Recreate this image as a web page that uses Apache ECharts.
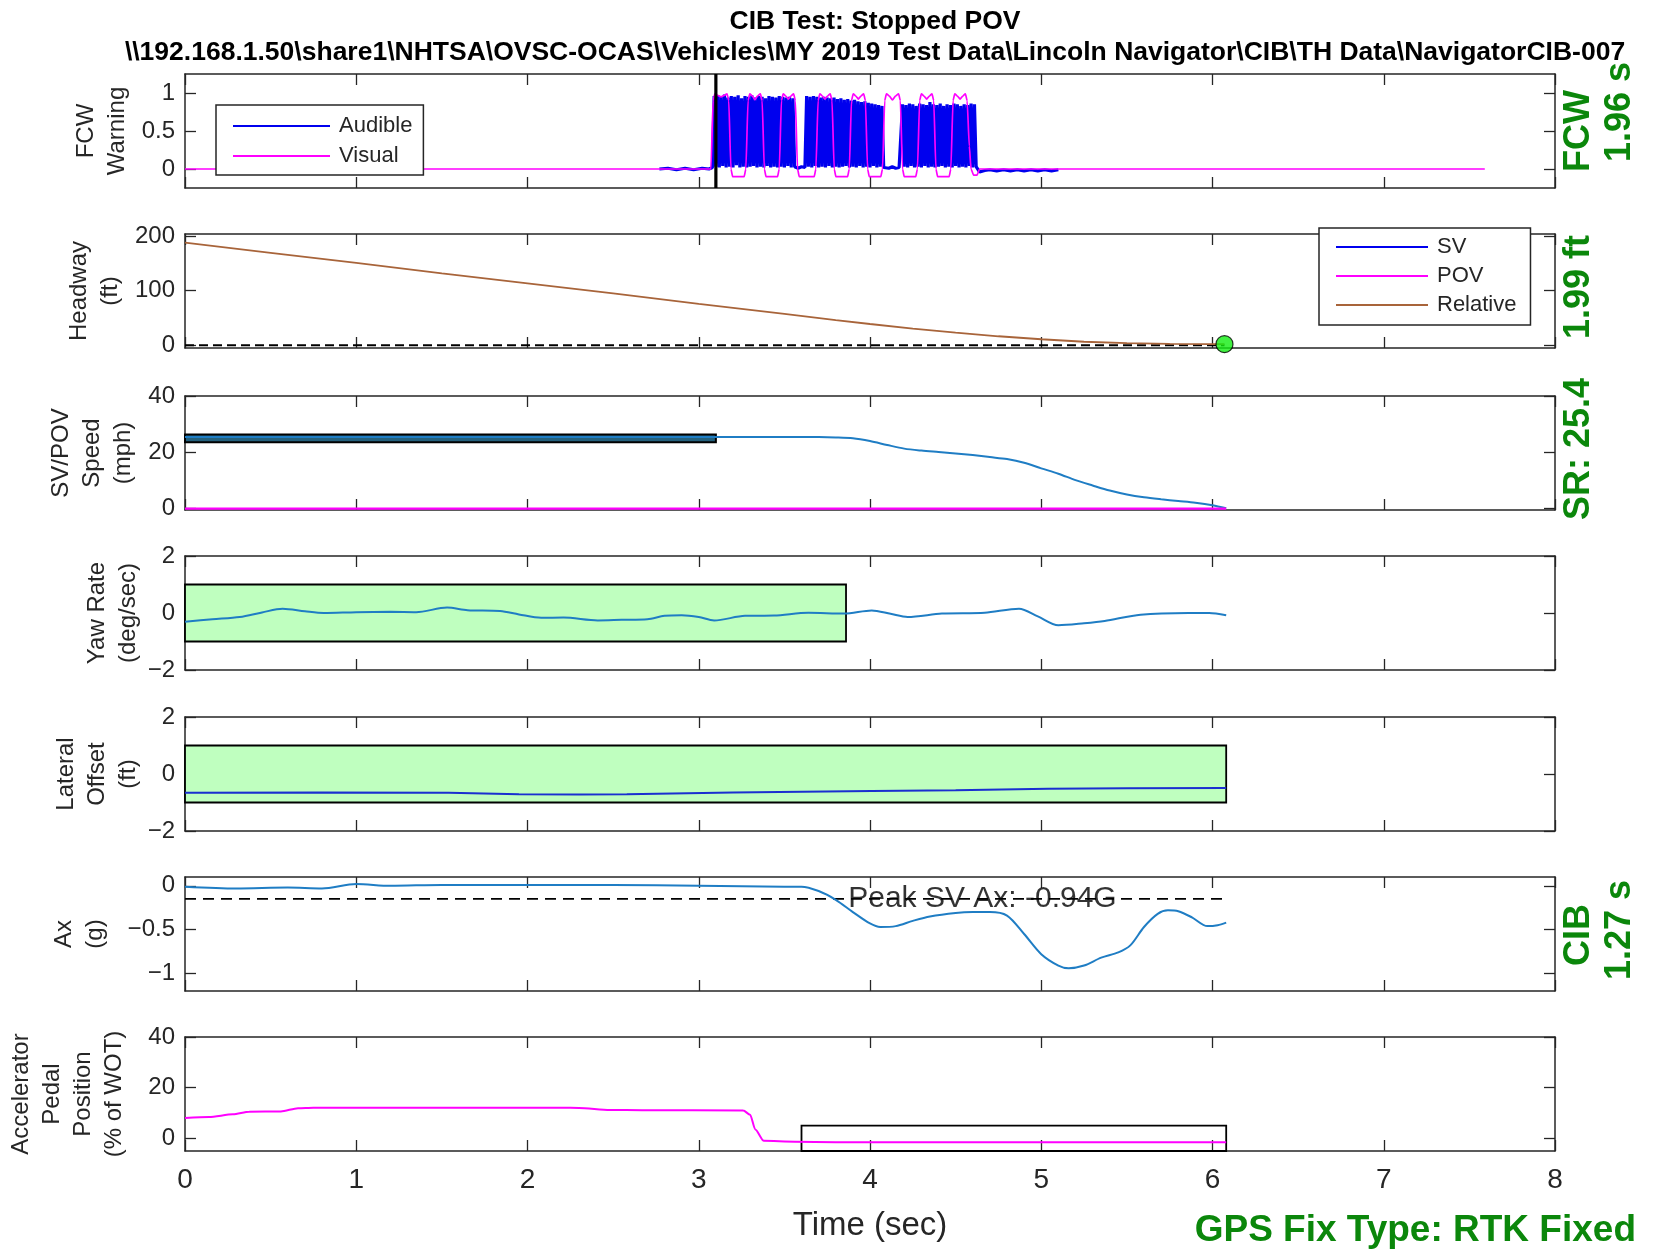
<!DOCTYPE html>
<html>
<head>
<meta charset="utf-8">
<script src="https://cdn.jsdelivr.net/npm/echarts@6/dist/echarts.min.js"></script>
<style>
html,body{margin:0;padding:0;background:#fff;}
#chart{width:1654px;height:1253px;}
</style>
</head>
<body>
<div id="chart"></div>
<script>
// ---------------- DATA ----------------
const titleMain = 'CIB Test: Stopped POV';
const titlePath = '\\\\192.168.1.50\\share1\\NHTSA\\OVSC-OCAS\\Vehicles\\MY 2019 Test Data\\Lincoln Navigator\\CIB\\TH Data\\NavigatorCIB-007';

const xTicks = [0, 8, 1]; // min, max, step (seconds)

// FCW warning - Audible (blue), sampled blocks at 0.01 s
const audiblePre = [[2.77,0.0],[2.82,0.01],[2.87,-0.01],[2.92,0.01],[2.97,-0.01],[3.02,0.01],[3.06,0.0],[3.08,0.02]];
const audBlock1Start = 3.09;
const audBlock1 = [
 0.96,0.03,0.97,0.02,0.95,0.04,0.98,0.02,0.94,0.03,
 0.96,0.02,0.95,0.05,0.97,0.02,0.93,0.03,0.96,0.02,
 0.95,0.03,0.97,0.04,0.94,0.02,0.96,0.03,0.95,0.02,
 0.93,0.04,0.96,0.02,0.95,0.03,0.94,0.02,0.96,0.03,
 0.95,0.02,0.94,0.04,0.95,0.02,0.93];
const audGap1 = [[3.56,0.03],[3.58,0.01],[3.60,0.03],[3.62,0.02]];
const audBlock2Start = 3.63;
const audBlock2 = [
 0.96,0.03,0.95,0.02,0.96,0.04,0.95,0.02,0.94,0.03,
 0.95,0.02,0.94,0.04,0.93,0.02,0.94,0.03,0.92,0.02,
 0.93,0.03,0.91,0.04,0.92,0.02,0.90,0.03,0.91,0.02,
 0.89,0.04,0.88,0.02,0.89,0.03,0.87,0.02,0.86,0.04,
 0.85,0.02,0.84,0.03,0.83,0.02];
const audGap2 = [[4.09,0.03],[4.11,0.01],[4.13,0.03],[4.15,0.01],[4.17,0.02],[4.18,0.03]];
const audBlock3Start = 4.19;
const audBlock3 = [
 0.85,0.03,0.84,0.02,0.86,0.04,0.85,0.02,0.83,0.03,
 0.86,0.02,0.85,0.04,0.84,0.02,0.88,0.03,0.85,0.02,
 0.84,0.03,0.86,0.04,0.83,0.02,0.85,0.03,0.84,0.02,
 0.86,0.04,0.85,0.02,0.83,0.03,0.85,0.02,0.84,0.04,
 0.86,0.02,0.85,0.03];
const audTail = [[4.63,0.02],[4.64,-0.04],[4.67,-0.02],[4.70,-0.01],[4.74,-0.025],[4.78,-0.01],[4.82,-0.025],[4.86,-0.01],[4.90,-0.025],[4.94,-0.01],[4.98,-0.025],[5.02,-0.01],[5.06,-0.025],[5.10,-0.01]];
const audSampleDt = 0.01;

// FCW warning - Visual (magenta)
const visualPts = [
 [0,0],[3.071,0],[3.084,0.9],[3.094,0.99],[3.11,0.97],[3.13,0.95],[3.15,0.97],[3.165,0.99],[3.175,0.9],[3.188,0],[3.198,-0.1],[3.265,-0.1],
 [3.275,0],[3.288,0.9],[3.298,0.99],[3.313,0.96],[3.328,0.91],[3.343,0.96],[3.36,0.99],[3.37,0.9],[3.383,0],[3.393,-0.1],[3.46,-0.1],
 [3.47,0],[3.483,0.9],[3.493,0.99],[3.508,0.96],[3.523,0.92],[3.538,0.96],[3.554,0.99],[3.564,0.9],[3.577,0],[3.587,-0.1],[3.674,-0.1],
 [3.684,0],[3.697,0.9],[3.707,0.99],[3.722,0.96],[3.737,0.92],[3.752,0.96],[3.768,0.99],[3.778,0.9],[3.791,0],[3.801,-0.1],[3.869,-0.1],
 [3.879,0],[3.892,0.9],[3.902,0.99],[3.917,0.96],[3.932,0.92],[3.947,0.96],[3.963,0.99],[3.973,0.9],[3.986,0],[3.996,-0.1],[4.063,-0.1],
 [4.073,0],[4.086,0.9],[4.096,0.99],[4.113,0.96],[4.131,0.91],[4.149,0.96],[4.167,0.99],[4.177,0.9],[4.19,0],[4.2,-0.1],[4.267,-0.1],
 [4.277,0],[4.29,0.9],[4.3,0.99],[4.315,0.96],[4.331,0.92],[4.347,0.96],[4.362,0.99],[4.372,0.9],[4.385,0],[4.395,-0.1],[4.462,-0.1],
 [4.472,0],[4.485,0.9],[4.495,0.99],[4.51,0.96],[4.526,0.92],[4.542,0.96],[4.557,0.99],[4.567,0.9],[4.58,0.3],[4.59,0],[4.605,-0.08],[4.625,-0.08],[4.64,0],
 [7.59,0]];
const fcwMarkT = 3.10;
const fcwRange = [-0.25, 1.25];

// Headway
const headT = [0, 0.5, 1, 1.5, 2, 2.5, 3, 3.5, 3.8, 4.0, 4.25, 4.5, 4.75, 5.0, 5.25, 5.5, 5.75, 6.0, 6.07];
const headRel = [188, 169.5, 151, 132, 113.5, 95, 76, 57.5, 46, 39, 30.5, 23, 16.5, 11, 6.5, 3.8, 2.5, 2.0, 1.99];
const headZeroT = [0, 6.07];
const headZeroV = [0, 0];
const headEnd = [6.07, 1.99];

// Speed
const speedT = [0, 0.5, 1, 1.5, 2, 2.5, 3, 3.5, 3.7, 3.8, 3.9, 4.0, 4.1, 4.2, 4.3, 4.4, 4.5, 4.6, 4.7, 4.8, 4.9, 5.0, 5.1, 5.2, 5.3, 5.4, 5.5, 5.6, 5.7, 5.8, 5.9, 6.0, 6.08];
const speedSV = [25.4, 25.4, 25.4, 25.4, 25.4, 25.4, 25.4, 25.4, 25.4, 25.3, 25.0, 24.0, 22.6, 21.3, 20.6, 20.1, 19.6, 19.0, 18.3, 17.6, 16.3, 14.3, 12.4, 10.1, 8.2, 6.4, 5.0, 4.0, 3.3, 2.7, 2.1, 1.2, 0.1];
const speedPOVT = [0, 6.08];
const speedPOV = [0, 0];
const speedBoxX = [0, 3.10];
const speedBoxY = [23.6, 26.3];

// Yaw rate
const yawT = [0, 0.16, 0.32, 0.45, 0.57, 0.7, 0.81, 1.0, 1.2, 1.35, 1.53, 1.65, 1.84, 1.95, 2.08, 2.21, 2.41, 2.55, 2.70, 2.80, 2.90, 3.0, 3.09, 3.27, 3.44, 3.64, 3.85, 4.01, 4.12, 4.22, 4.42, 4.67, 4.87, 4.98, 5.10, 5.25, 5.37, 5.58, 5.86, 5.98, 6.08];
const yawV = [-0.31, -0.22, -0.14, 0.02, 0.15, 0.06, 0.0, 0.03, 0.04, 0.03, 0.19, 0.1, 0.07, -0.05, -0.17, -0.16, -0.26, -0.24, -0.22, -0.1, -0.08, -0.14, -0.26, -0.10, -0.09, 0.01, -0.02, 0.09, -0.03, -0.14, -0.02, 0.01, 0.15, -0.12, -0.43, -0.36, -0.28, -0.06, 0.0, 0.0, -0.08];
const yawBoxX = [0, 3.86];
const yawBoxY = [-1, 1];

// Lateral offset
const latT = [0, 0.8, 1.54, 1.95, 2.3, 2.58, 3.2, 4.01, 4.5, 5.04, 5.5, 6.08];
const latV = [-0.66, -0.65, -0.66, -0.71, -0.72, -0.71, -0.65, -0.60, -0.57, -0.52, -0.50, -0.49];
const latBoxX = [0, 6.08];
const latBoxY = [-1, 1];

// Longitudinal acceleration
const axT = [0, 0.3, 0.6, 0.8, 1.0, 1.2, 1.5, 2.0, 2.5, 3.0, 3.5, 3.6, 3.7, 3.8, 3.9, 4.0, 4.06, 4.15, 4.25, 4.35, 4.5, 4.6, 4.7, 4.8, 4.9, 5.0, 5.1, 5.16, 5.25, 5.35, 5.45, 5.52, 5.6, 5.68, 5.74, 5.8, 5.88, 5.97, 6.03, 6.08];
const axV = [-0.01, -0.03, -0.02, -0.03, 0.02, 0.0, 0.01, 0.01, 0.01, 0.0, -0.01, -0.01, -0.06, -0.16, -0.30, -0.43, -0.47, -0.46, -0.40, -0.35, -0.31, -0.30, -0.30, -0.34, -0.55, -0.78, -0.91, -0.94, -0.91, -0.82, -0.76, -0.68, -0.47, -0.32, -0.28, -0.29, -0.36, -0.46, -0.45, -0.42];
const axPeakT = [0, 6.08];
const axPeakV = [-0.15, -0.15];
const axPeakLabel = 'Peak SV Ax: -0.94G';
const axPeakLabelT = 3.87;

// Accelerator pedal
const accT = [0, 0.14, 0.28, 0.375, 0.56, 0.66, 0.75, 1.5, 2.2, 2.3, 2.48, 2.67, 3.26, 3.30, 3.33, 3.38, 3.56, 3.8, 4.55, 6.08];
const accV = [8.0, 8.4, 9.5, 10.5, 10.6, 11.9, 12.1, 12.1, 12.1, 12.0, 11.2, 11.1, 11.0, 9.3, 3.5, -1.0, -1.3, -1.5, -1.5, -1.5];
const accBoxX = [3.6, 6.08];
const accBoxY = [-5, 5];

// Panel axes
const yRanges = [[-0.25, 1.25], [-5, 204], [-0.5, 40], [-2, 2], [-2, 2], [-1.2, 0.1], [-5, 40]];
const yTickVals = [[0, 0.5, 1], [0, 100, 200], [0, 20, 40], [-2, 0, 2], [-2, 0, 2], [-1, -0.5, 0], [0, 20, 40]];
const yLabels = ['FCW\nWarning', 'Headway\n(ft)', 'SV/POV\nSpeed\n(mph)', 'Yaw Rate\n(deg/sec)', 'Lateral\nOffset\n(ft)', 'Ax\n(g)', 'Accelerator\nPedal\nPosition\n(% of WOT)'];
const xName = 'Time (sec)';
const sideNotes = [['FCW', '1.96 s'], ['1.99 ft'], ['SR: 25.4'], [], [], ['CIB', '1.27 s'], []];
const gpsNote = 'GPS Fix Type: RTK Fixed';

// ---------------- LAYOUT / STYLE ----------------
const FONT = "'Liberation Sans', Arial, Helvetica, sans-serif";
const AX = '#262626';
const GREEN = '#0b870b';
const C_AUD = '#0000ee', C_VIS = '#ff00ff', C_REL = '#a8643a', C_SV = '#1f7dc4', C_LAT = '#1a2fd0';
const GREENFILL = '#bfffbf';
const plotLeft = 185, plotWidth = 1370, panelH = 114;
const panelTops = [74, 234, 396, 556, 717, 877, 1037];
const ylabelX = [102, 95, 92, 113, 97, 80, 68];
const noteX = [1579, 1620];
const noteY = [[131, 112], [287], [449], [], [], [935, 930], []];

const pairs = (xs, ys) => xs.map((x, i) => [x, ys[i]]);
const block = (t0, vals) => vals.map((v, i) => [+(t0 + i * audSampleDt).toFixed(3), v]);
const fmt = v => (v < 0 ? '\u2212' + String(-v) : String(v));

const audible = [].concat(audiblePre, block(audBlock1Start, audBlock1), audGap1,
  block(audBlock2Start, audBlock2), audGap2, block(audBlock3Start, audBlock3), audTail);

const grids = [], xAxes = [], yAxes = [];
for (let i = 0; i < 7; i++) {
  grids.push({left: plotLeft, width: plotWidth, top: panelTops[i], height: panelH});
  const lineSt = {show: true, onZero: false, lineStyle: {color: AX, width: 1.5}};
  const tickSt = {show: true, inside: true, length: 11, lineStyle: {color: AX, width: 1.3}};
  xAxes.push({
    type: 'value', gridIndex: i, min: xTicks[0], max: xTicks[1], interval: xTicks[2], position: 'bottom',
    axisLine: lineSt, axisTick: tickSt, splitLine: {show: false},
    axisLabel: {show: i === 6, fontSize: 28, color: AX, fontFamily: FONT, margin: 15},
    name: i === 6 ? xName : '', nameLocation: 'middle', nameGap: 58,
    nameTextStyle: {fontSize: 33, color: AX, fontFamily: FONT}
  });
  xAxes.push({
    type: 'value', gridIndex: i, min: xTicks[0], max: xTicks[1], interval: xTicks[2], position: 'top',
    axisLine: lineSt, axisTick: tickSt, splitLine: {show: false}, axisLabel: {show: false}
  });
  yAxes.push({
    type: 'value', gridIndex: i, min: yRanges[i][0], max: yRanges[i][1], position: 'left',
    axisLine: lineSt, axisTick: Object.assign({customValues: yTickVals[i]}, tickSt), splitLine: {show: false},
    axisLabel: {customValues: yTickVals[i], fontSize: 24, color: AX, fontFamily: FONT, margin: 10, formatter: fmt}
  });
  yAxes.push({
    type: 'value', gridIndex: i, min: yRanges[i][0], max: yRanges[i][1], position: 'right',
    axisLine: lineSt, axisTick: Object.assign({customValues: yTickVals[i]}, tickSt), splitLine: {show: false},
    axisLabel: {show: false}
  });
}

function lineS(name, panel, data, color, width, extra) {
  return Object.assign({
    name: name, type: 'line', xAxisIndex: panel * 2, yAxisIndex: panel * 2, data: data,
    symbol: 'none', showSymbol: false, animation: false, z: 3, silent: true,
    lineStyle: {color: color, width: width}, itemStyle: {color: color}
  }, extra || {});
}
function boxS(panel, bx, by, fill, bw) {
  return {
    type: 'line', xAxisIndex: panel * 2, yAxisIndex: panel * 2, data: [], z: 1, silent: true, animation: false,
    markArea: {silent: true, itemStyle: {color: fill, borderColor: '#000', borderWidth: bw},
      data: [[{coord: [bx[0], by[0]]}, {coord: [bx[1], by[1]]}]]}
  };
}
const SM = {smooth: 0.3};

const series = [
  lineS('Audible', 0, audible, C_AUD, 3.2),
  lineS('Visual', 0, visualPts, C_VIS, 1.7, {smooth: 0.2, smoothMonotone: 'x'}),
  lineS('fcwMark', 0, [[fcwMarkT, fcwRange[0]], [fcwMarkT, fcwRange[1]]], '#000', 3.2, {z: 4}),
  lineS('SV', 1, [], C_AUD, 2),
  lineS('POV', 1, [], C_VIS, 2),
  lineS('zeroRef', 1, pairs(headZeroT, headZeroV), '#000', 2, {lineStyle: {color: '#000', width: 2, type: [9, 5]}}),
  lineS('Relative', 1, pairs(headT, headRel), C_REL, 1.8),
  {type: 'scatter', xAxisIndex: 2, yAxisIndex: 2, data: [headEnd], symbolSize: 17, z: 5, silent: true, animation: false,
   itemStyle: {color: '#11ee11', borderColor: '#000', borderWidth: 1.2}},
  boxS(2, speedBoxX, speedBoxY, '#24607c', 2),
  lineS('SV speed', 2, pairs(speedT, speedSV), C_SV, 2, SM),
  lineS('POV speed', 2, pairs(speedPOVT, speedPOV), C_VIS, 2.2),
  boxS(3, yawBoxX, yawBoxY, GREENFILL, 1.8),
  lineS('Yaw', 3, pairs(yawT, yawV), C_SV, 2, SM),
  boxS(4, latBoxX, latBoxY, GREENFILL, 1.8),
  lineS('Lateral', 4, pairs(latT, latV), C_LAT, 2),
  lineS('axPeak', 5, pairs(axPeakT, axPeakV), '#000', 1.6, {lineStyle: {color: '#000', width: 1.6, type: [11, 7]}}),
  lineS('Ax', 5, pairs(axT, axV), C_SV, 2, SM),
  {type: 'scatter', xAxisIndex: 10, yAxisIndex: 10, data: [[axPeakLabelT, axPeakV[0]]], symbolSize: 1, z: 5,
   silent: true, animation: false, itemStyle: {color: 'rgba(0,0,0,0)'},
   label: {show: true, position: 'right', distance: 0, formatter: axPeakLabel, fontSize: 30, color: '#000', fontFamily: FONT}},
  boxS(6, accBoxX, accBoxY, 'rgba(0,0,0,0)', 1.8),
  lineS('Pedal', 6, pairs(accT, accV), C_VIS, 2, {smooth: 0.25, smoothMonotone: 'x'})
];

const graphics = [];
for (let i = 0; i < 7; i++) {
  graphics.push({type: 'text', x: ylabelX[i], y: panelTops[i] + panelH / 2, rotation: Math.PI / 2, silent: true,
    style: {text: yLabels[i], fontSize: 24, fontFamily: FONT, fill: AX, align: 'center', verticalAlign: 'middle',
      textAlign: 'center', textVerticalAlign: 'middle', lineHeight: 31}});
  sideNotes[i].forEach((t, k) => {
    graphics.push({type: 'text', x: noteX[k], y: noteY[i][k], rotation: Math.PI / 2, silent: true,
      style: {text: t, fontSize: 36, fontWeight: 'bold', fontFamily: FONT, fill: GREEN, align: 'center',
        verticalAlign: 'middle', textAlign: 'center', textVerticalAlign: 'middle'}});
  });
}
graphics.push({type: 'text', x: 1636, y: 1231, silent: true,
  style: {text: gpsNote, fontSize: 37, fontWeight: 'bold', fontFamily: FONT, fill: GREEN, align: 'right',
    verticalAlign: 'middle', textAlign: 'right', textVerticalAlign: 'middle'}});

const legendCommon = {orient: 'vertical', selectedMode: false, backgroundColor: '#fff', borderColor: AX,
  borderWidth: 1.5, borderRadius: 0, icon: 'rect', itemHeight: 2, z: 10,
  textStyle: {fontSize: 22, color: AX, fontFamily: FONT, padding: [0, 0, 0, 4]}};

const option = {
  animation: false,
  backgroundColor: '#fff',
  textStyle: {fontFamily: FONT},
  title: [
    {text: titleMain, left: 870, top: 3, textAlign: 'center',
     textStyle: {fontSize: 26.5, fontWeight: 'bold', color: '#000', fontFamily: FONT}},
    {text: titlePath, left: 870, top: 34, textAlign: 'center',
     textStyle: {fontSize: 26.5, fontWeight: 'bold', color: '#000', fontFamily: FONT}}
  ],
  legend: [
    Object.assign({}, legendCommon, {data: ['Audible', 'Visual'], left: 216, top: 105,
      padding: [10, 11, 8, 17], itemWidth: 97, itemGap: 8}),
    Object.assign({}, legendCommon, {data: ['SV', 'POV', 'Relative'], left: 1319, top: 228,
      padding: [8, 14, 9, 17], itemWidth: 92, itemGap: 7})
  ],
  grid: grids,
  xAxis: xAxes,
  yAxis: yAxes,
  series: series,
  graphic: {elements: graphics}
};

const chart = echarts.init(document.getElementById('chart'), null, {renderer: 'canvas'});
chart.setOption(option);
</script>
</body>
</html>
